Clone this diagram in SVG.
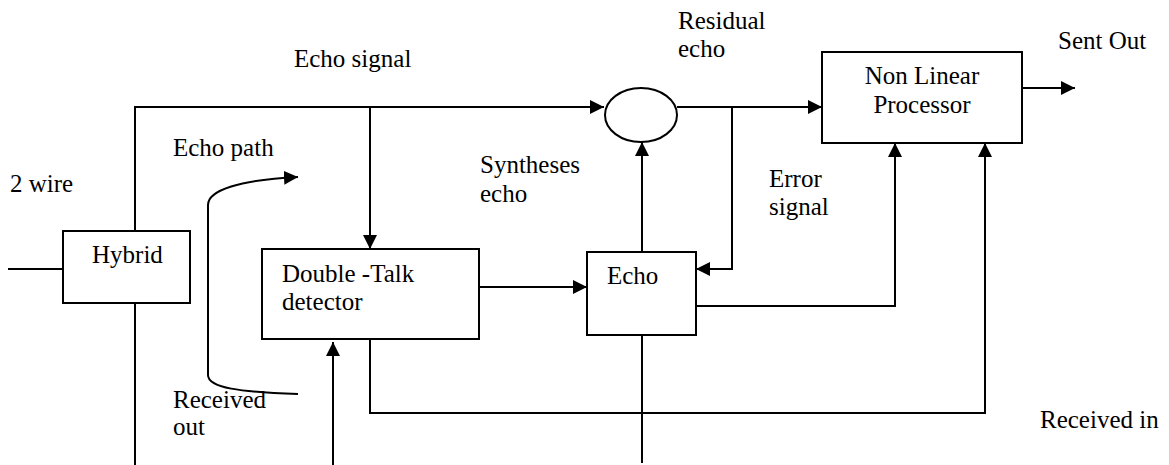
<svg xmlns="http://www.w3.org/2000/svg" width="1169" height="465" viewBox="0 0 1169 465" font-family="'Liberation Serif', 'DejaVu Serif', serif" font-size="25">
  <style>
    text { font-family: 'Liberation Serif', 'DejaVu Serif', serif; font-size: 25px; fill: #000; }
    .box { fill: #fff; stroke: #000; stroke-width: 2; }
    .wire { fill: none; stroke: #000; stroke-width: 2; }
  </style>
  <defs>
    <marker id="arrow" viewBox="0 0 14 14" refX="14" refY="7" markerWidth="14" markerHeight="14" markerUnits="userSpaceOnUse" orient="auto">
      <path d="M0,0 L14,7 L0,14 Z" fill="#000"/>
    </marker>
  </defs>

  <rect width="1169" height="465" fill="#fff"/>

  <!-- connectors -->
  <g id="connectors">
    <!-- hybrid to summing junction -->
    <path class="wire" d="M135,231 V107 H604" marker-end="url(#arrow)"/>
    <!-- echo signal tap into double-talk detector -->
    <path class="wire" d="M370,107 V249" marker-end="url(#arrow)"/>
    <!-- 2 wire line into hybrid -->
    <path class="wire" d="M8,269 H63"/>
    <!-- hybrid down -->
    <path class="wire" d="M135,303 V465"/>
    <!-- echo path curve -->
    <path class="wire" d="M298,394 C240,392 208,388 208,375 V205 C208,190 240,180 298,177" marker-end="url(#arrow)"/>
    <!-- residual echo to NLP -->
    <path class="wire" d="M677,107 H822" marker-end="url(#arrow)"/>
    <!-- NLP out -->
    <path class="wire" d="M1022,88 H1075" marker-end="url(#arrow)"/>
    <!-- error signal feedback -->
    <path class="wire" d="M732,107 V269 H696" marker-end="url(#arrow)"/>
    <!-- synthesized echo into summing junction -->
    <path class="wire" d="M642,252 V142" marker-end="url(#arrow)"/>
    <!-- double-talk to echo -->
    <path class="wire" d="M479,287 H587" marker-end="url(#arrow)"/>
    <!-- echo to NLP -->
    <path class="wire" d="M696,306 H895 V143" marker-end="url(#arrow)"/>
    <!-- received in to double-talk -->
    <path class="wire" d="M333,465 V342" marker-end="url(#arrow)"/>
    <!-- double-talk to NLP -->
    <path class="wire" d="M370,339 V413 H985 V143" marker-end="url(#arrow)"/>
    <!-- received in to echo -->
    <path class="wire" d="M642,335 V463"/>
  </g>

  <g id="hybrid">
    <rect class="box" x="63" y="231" width="127" height="72"/>
    <text x="92" y="263">Hybrid</text>
  </g>

  <g id="double-talk">
    <rect class="box" x="262" y="249" width="217" height="90"/>
    <text x="282" y="282">Double -Talk</text>
    <text x="282" y="310">detector</text>
  </g>

  <g id="echo">
    <rect class="box" x="587" y="252" width="109" height="83"/>
    <text x="607" y="284">Echo</text>
  </g>

  <g id="sum">
    <ellipse class="box" cx="641" cy="115" rx="36" ry="27"/>
  </g>

  <g id="nlp">
    <rect class="box" x="822" y="52" width="200" height="91"/>
    <text x="922" y="84" text-anchor="middle">Non Linear</text>
    <text x="922" y="113" text-anchor="middle">Processor</text>
  </g>

  <g id="labels">
    <text x="294" y="67">Echo signal</text>
    <text x="173" y="156">Echo path</text>
    <text x="10" y="192">2 wire</text>
    <text x="678" y="29">Residual</text>
    <text x="678" y="57">echo</text>
    <text x="480" y="173">Syntheses</text>
    <text x="480" y="202">echo</text>
    <text x="769" y="187">Error</text>
    <text x="769" y="215">signal</text>
    <text x="1058" y="49">Sent Out</text>
    <text x="173" y="408">Received</text>
    <text x="173" y="435">out</text>
    <text x="1040" y="428">Received in</text>
  </g>
</svg>
